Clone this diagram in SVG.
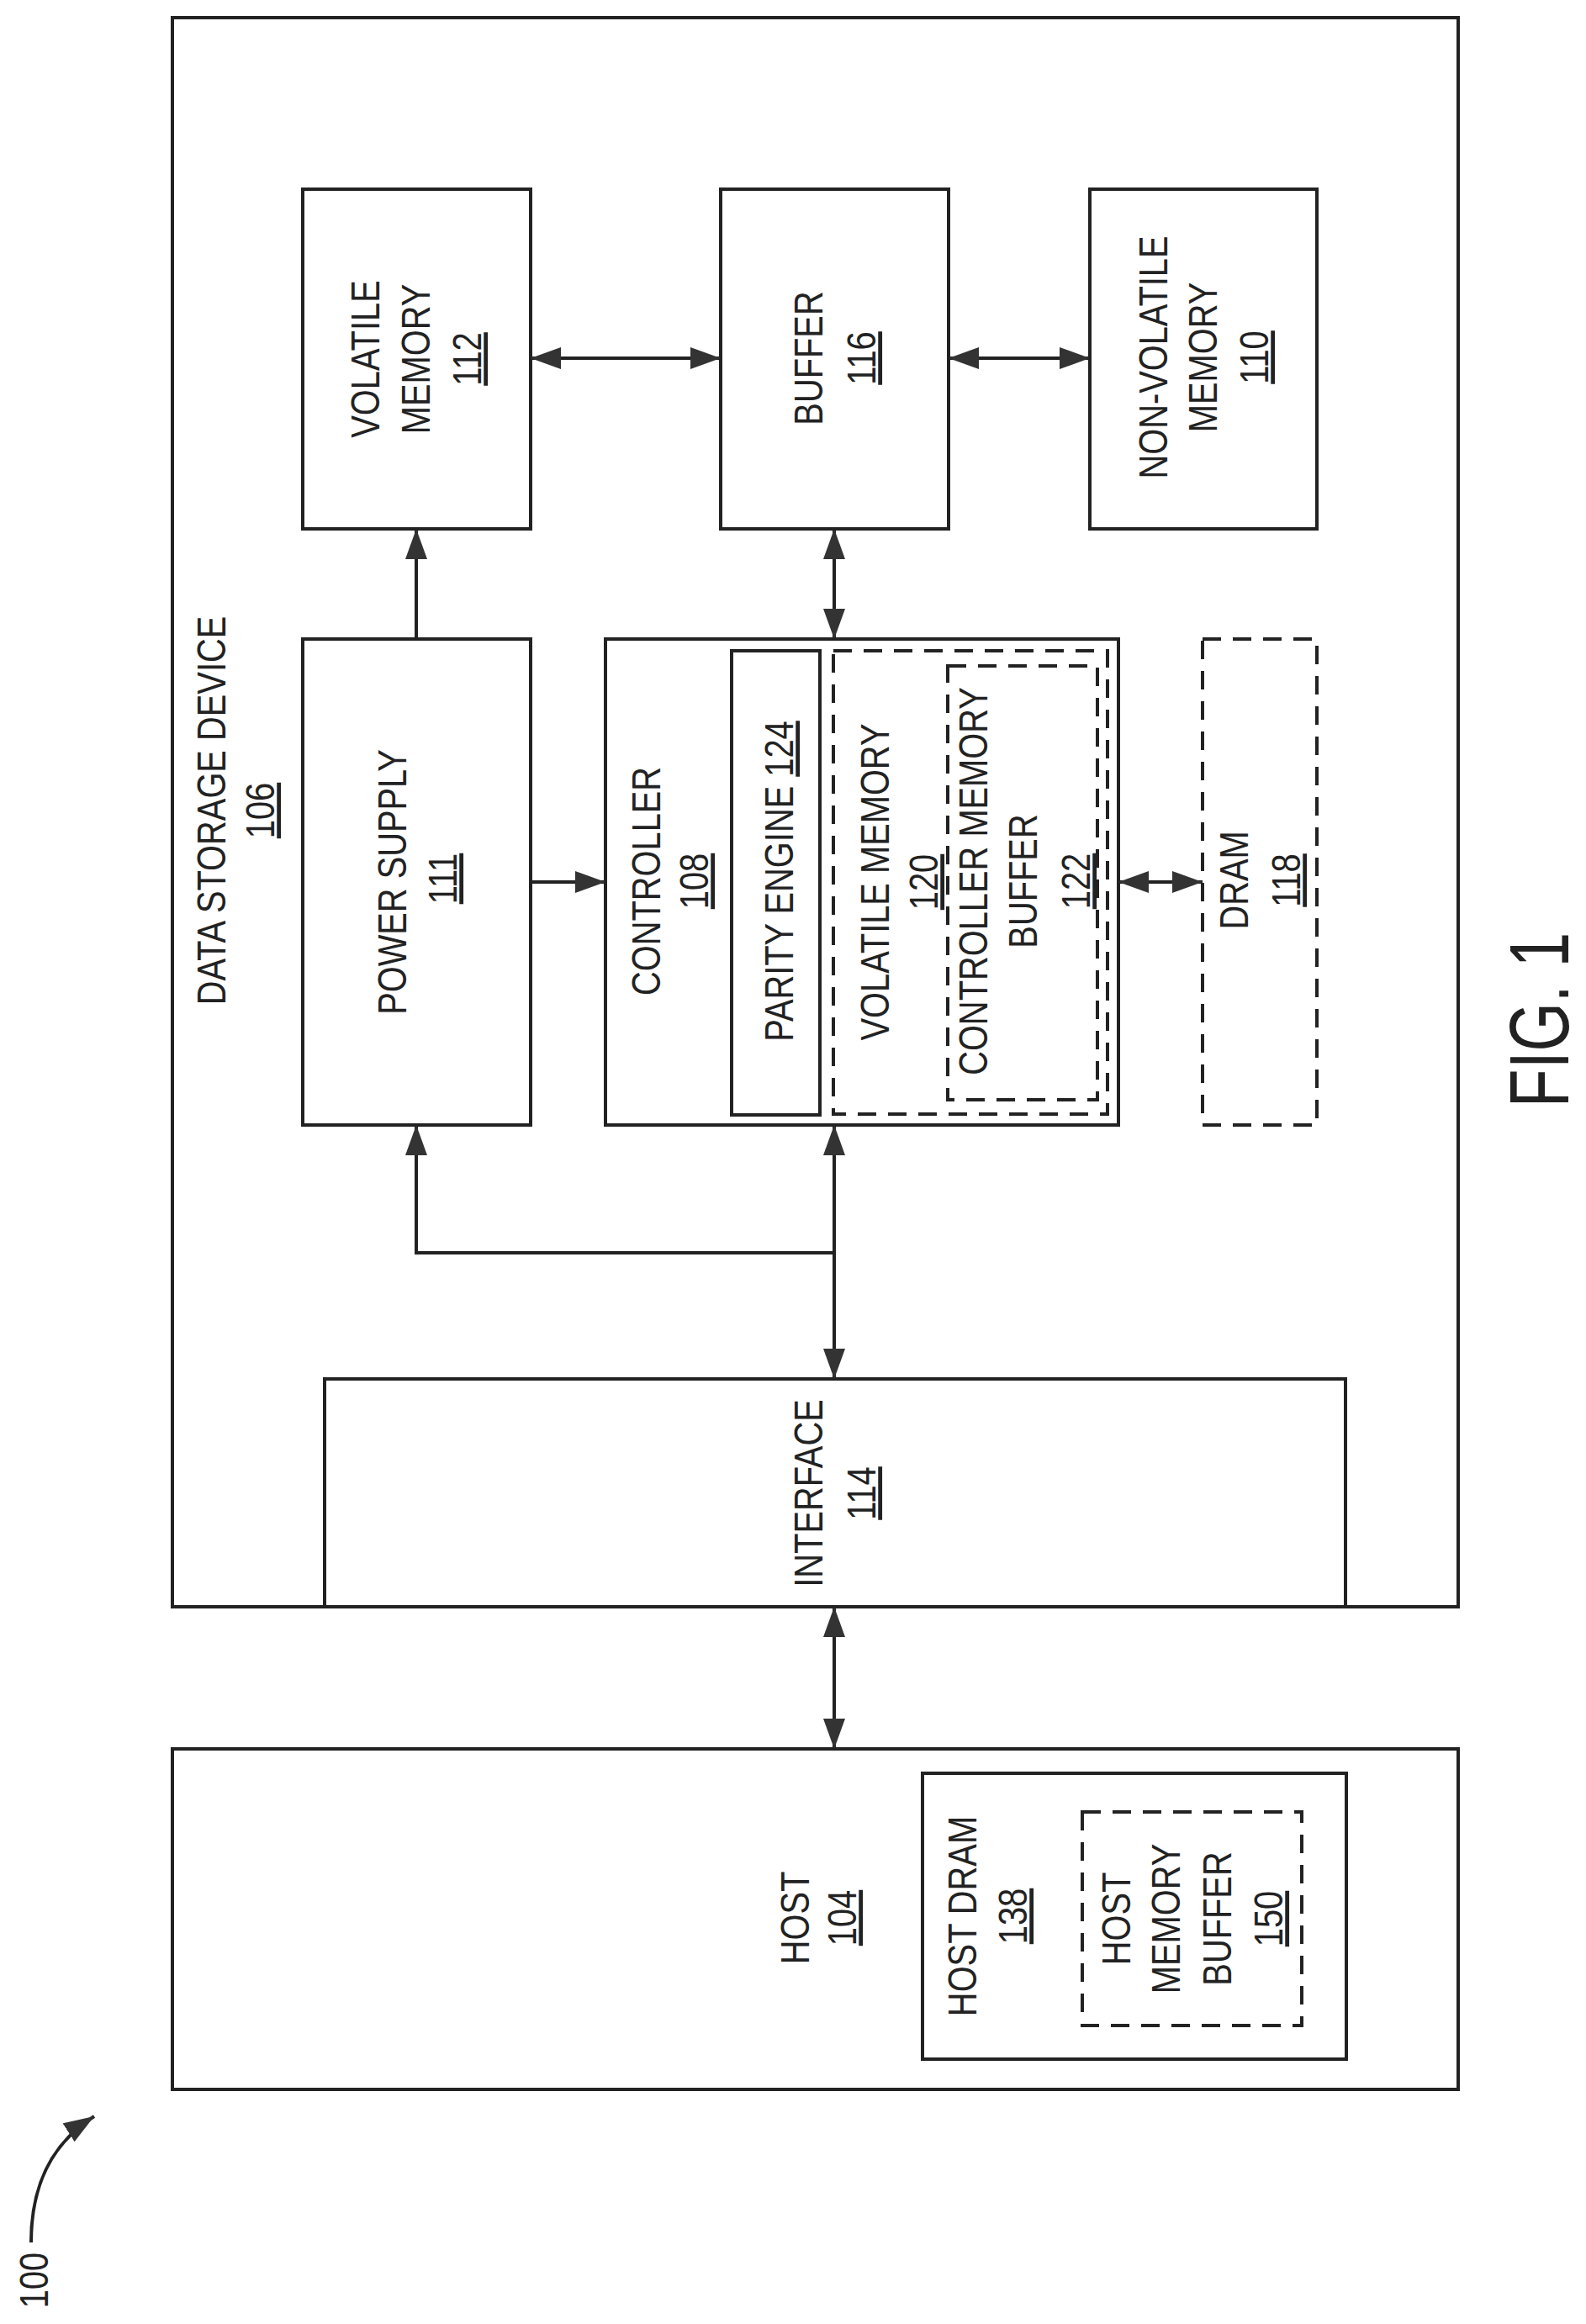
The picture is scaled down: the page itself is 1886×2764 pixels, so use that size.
<svg xmlns="http://www.w3.org/2000/svg" width="1886" height="2764" viewBox="0 0 1886 2764">
<style>
.box{fill:none;stroke:#222;stroke-width:4}
.dash{fill:none;stroke:#222;stroke-width:4;stroke-dasharray:22 14}
.ln{fill:none;stroke:#222;stroke-width:4}
text{font-family:"Liberation Sans",Arial,sans-serif;font-size:48px;fill:#222;text-anchor:middle}
.u{text-decoration:underline}
</style>
<defs>
<marker id="ah" viewBox="0 0 36 26" refX="36" refY="13" markerWidth="36" markerHeight="26" markerUnits="userSpaceOnUse" orient="auto-start-reverse">
<path d="M0,0 L36,13 L0,26 z" fill="#333"/>
</marker>
</defs>
<rect width="1886" height="2764" fill="#fff"/>

<g id="dsd">
<rect class="box" x="205" y="21" width="1529" height="1890"/>
<text transform="translate(268,964) rotate(-90) scale(0.83,1)">DATA STORAGE DEVICE</text>
<text class="u" transform="translate(326,964) rotate(-90) scale(0.83,1)">106</text>
</g>
<g id="vm112">
<rect class="box" x="360" y="225" width="271" height="404"/>
<text transform="translate(451,427) rotate(-90) scale(0.83,1)">VOLATILE</text>
<text transform="translate(511,427) rotate(-90) scale(0.83,1)">MEMORY</text>
<text class="u" transform="translate(572,427) rotate(-90) scale(0.83,1)">112</text>
</g>
<g id="buffer116">
<rect class="box" x="857" y="225" width="271" height="404"/>
<text transform="translate(978,426) rotate(-90) scale(0.83,1)">BUFFER</text>
<text class="u" transform="translate(1041,426) rotate(-90) scale(0.83,1)">116</text>
</g>
<g id="nvm110">
<rect class="box" x="1296" y="225" width="270" height="404"/>
<text transform="translate(1388,425) rotate(-90) scale(0.83,1)">NON-VOLATILE</text>
<text transform="translate(1447,425) rotate(-90) scale(0.83,1)">MEMORY</text>
<text class="u" transform="translate(1508,425) rotate(-90) scale(0.83,1)">110</text>
</g>
<g id="ps111">
<rect class="box" x="360" y="760" width="271" height="578"/>
<text transform="translate(483,1049) rotate(-90) scale(0.83,1)">POWER SUPPLY</text>
<text class="u" transform="translate(543,1045) rotate(-90) scale(0.83,1)">111</text>
</g>
<g id="ctrl108">
<rect class="box" x="720" y="760" width="610" height="578"/>
<text transform="translate(785,1048) rotate(-90) scale(0.83,1)">CONTROLLER</text>
<text class="u" transform="translate(842,1048) rotate(-90) scale(0.83,1)">108</text>
</g>
<g id="parity124">
<rect class="box" x="870" y="774" width="105" height="552"/>
<text transform="translate(943,1048) rotate(-90) scale(0.83,1)">PARITY ENGINE <tspan class="u">124</tspan></text>
</g>
<g id="vm120">
<rect class="dash" x="991" y="774" width="326" height="551"/>
<text transform="translate(1057,1049) rotate(-90) scale(0.83,1)">VOLATILE MEMORY</text>
<text class="u" transform="translate(1115,1049) rotate(-90) scale(0.83,1)">120</text>
</g>
<g id="cmb122">
<rect class="dash" x="1127" y="792" width="178" height="516"/>
<text transform="translate(1174,1048) rotate(-90) scale(0.83,1)">CONTROLLER MEMORY</text>
<text transform="translate(1233,1048) rotate(-90) scale(0.83,1)">BUFFER</text>
<text class="u" transform="translate(1296,1048) rotate(-90) scale(0.83,1)">122</text>
</g>
<g id="dram118">
<rect class="dash" x="1430" y="760" width="136" height="578"/>
<text transform="translate(1484,1047) rotate(-90) scale(0.83,1)">DRAM</text>
<text class="u" transform="translate(1546,1047) rotate(-90) scale(0.83,1)">118</text>
</g>
<g id="if114">
<rect class="box" x="386" y="1640" width="1214" height="271"/>
<text transform="translate(978,1776) rotate(-90) scale(0.83,1)">INTERFACE</text>
<text class="u" transform="translate(1041,1776) rotate(-90) scale(0.83,1)">114</text>
</g>
<g id="host104">
<rect class="box" x="205" y="2080" width="1529" height="405"/>
<text transform="translate(962,2281) rotate(-90) scale(0.83,1)">HOST</text>
<text class="u" transform="translate(1018,2281) rotate(-90) scale(0.83,1)">104</text>
</g>
<g id="hostdram138">
<rect class="box" x="1097" y="2109" width="504" height="340"/>
<text transform="translate(1161,2279) rotate(-90) scale(0.83,1)">HOST DRAM</text>
<text class="u" transform="translate(1221,2279) rotate(-90) scale(0.83,1)">138</text>
</g>
<g id="hmb150">
<rect class="dash" x="1287" y="2155" width="261" height="254"/>
<text transform="translate(1344,2282) rotate(-90) scale(0.83,1)">HOST</text>
<text transform="translate(1403,2282) rotate(-90) scale(0.83,1)">MEMORY</text>
<text transform="translate(1464,2282) rotate(-90) scale(0.83,1)">BUFFER</text>
<text class="u" transform="translate(1525,2282) rotate(-90) scale(0.83,1)">150</text>
</g>
<g id="connectors">
<path class="ln" d="M631,426 H857" marker-start="url(#ah)" marker-end="url(#ah)"/>
<path class="ln" d="M1128,426 H1296" marker-start="url(#ah)" marker-end="url(#ah)"/>
<path class="ln" d="M495,760 V629" marker-end="url(#ah)"/>
<path class="ln" d="M992,629 V760" marker-start="url(#ah)" marker-end="url(#ah)"/>
<path class="ln" d="M631,1049 H720" marker-end="url(#ah)"/>
<path class="ln" d="M1330,1049 H1430" marker-start="url(#ah)" marker-end="url(#ah)"/>
<path class="ln" d="M992,1338 V1640" marker-start="url(#ah)" marker-end="url(#ah)"/>
<path class="ln" d="M992,1490 H495 V1338" marker-end="url(#ah)"/>
<path class="ln" d="M992,1911 V2080" marker-start="url(#ah)" marker-end="url(#ah)"/>
<path class="ln" d="M37,2667 C37,2600 60,2550 112,2517" marker-end="url(#ah)"/>
</g>
<g id="labels">
<text transform="translate(57,2712) rotate(-90) scale(0.83,1)">100</text>
<text style="font-size:100px" transform="translate(1865,1213) rotate(-90) scale(0.75,1)">FIG. 1</text>
</g>
</svg>
